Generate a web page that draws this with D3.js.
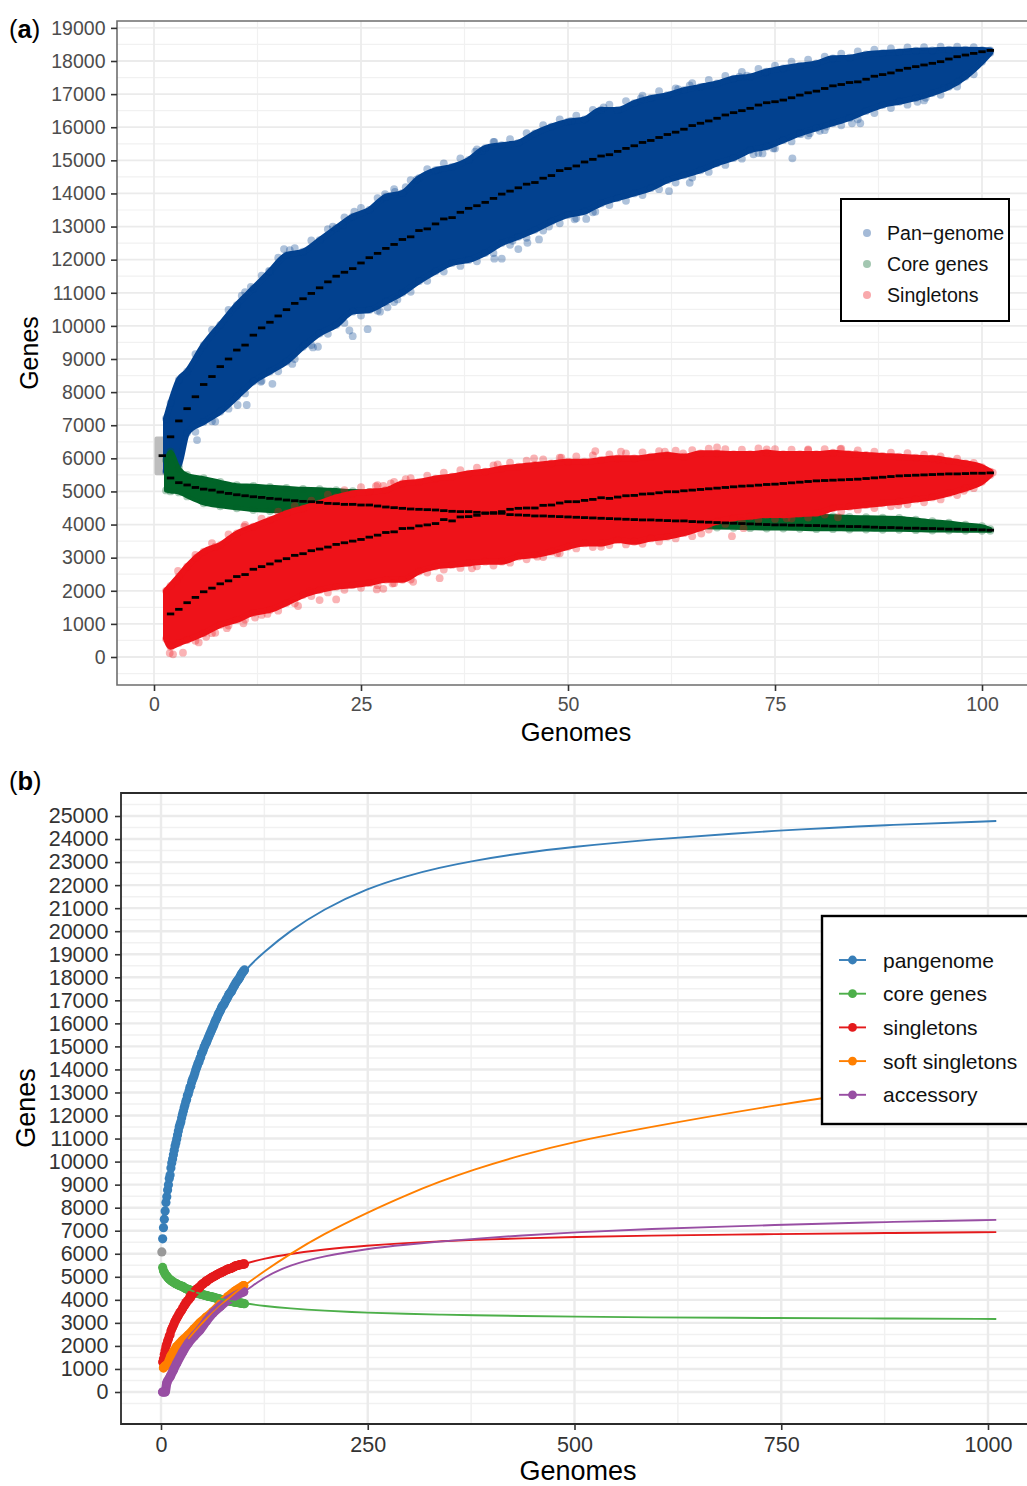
<!DOCTYPE html>
<html>
<head>
<meta charset="utf-8">
<script src="https://cdnjs.cloudflare.com/ajax/libs/d3/7.8.5/d3.min.js"></script>
<style>
html, body { margin: 0; padding: 0; background: #fff; overflow: hidden; }
text { font-family: "Liberation Sans", Arial, sans-serif; }
</style>
</head>
<body>
<script>
// medians per genome count, index 0 = 1 genome for pan, 2 genomes for core/singletons
var panMedian = [6080, 6650, 7130, 7500, 7860, 8230, 8470, 8770, 9000, 9270,
  9420, 9720, 9940, 10110, 10300, 10490, 10680, 10820, 10980, 11150,
  11330, 11500, 11620, 11730, 11900, 12060, 12190, 12340, 12460, 12610,
  12690, 12880, 12930, 13080, 13230, 13270, 13430, 13550, 13630, 13730,
  13850, 13980, 14070, 14170, 14280, 14330, 14460, 14540, 14690, 14750,
  14830, 14950, 15030, 15130, 15170, 15270, 15360, 15440, 15540, 15600,
  15690, 15780, 15850, 15940, 16050, 16120, 16190, 16270, 16370, 16440,
  16500, 16570, 16670, 16740, 16770, 16820, 16890, 16970, 17040, 17090,
  17170, 17250, 17290, 17350, 17370, 17450, 17540, 17590, 17640, 17720,
  17780, 17830, 17880, 17930, 17980, 18060, 18130, 18180, 18230, 18280, 18320];
var coreMedian = [5406, 5265, 5195, 5120, 5070, 5040, 4980, 4940, 4900,
  4870, 4840, 4820, 4790, 4770, 4740, 4720, 4700, 4690, 4670,
  4640, 4630, 4610, 4610, 4590, 4590, 4560, 4530, 4510, 4490,
  4470, 4460, 4450, 4440, 4420, 4400, 4390, 4390, 4370, 4350,
  4340, 4340, 4300, 4290, 4280, 4260, 4260, 4250, 4240, 4230,
  4220, 4210, 4200, 4190, 4180, 4170, 4160, 4150, 4140, 4140,
  4130, 4120, 4110, 4110, 4090, 4080, 4070, 4060, 4050, 4040,
  4030, 4020, 4010, 4000, 3990, 3990, 3980, 3980, 3970, 3970,
  3960, 3950, 3950, 3940, 3940, 3930, 3920, 3910, 3910, 3900,
  3890, 3890, 3880, 3880, 3870, 3860, 3860, 3850, 3850, 3840, 3830];
var singletonMedian = [1300, 1440, 1640, 1800, 1970, 2080, 2210, 2300, 2430,
  2490, 2650, 2730, 2810, 2900, 2970, 3070, 3120, 3210, 3260,
  3320, 3400, 3450, 3500, 3550, 3620, 3680, 3760, 3780, 3880,
  3890, 3960, 3990, 4030, 4150, 4110, 4230, 4240, 4280, 4340,
  4360, 4390, 4460, 4490, 4500, 4500, 4580, 4590, 4650, 4690,
  4690, 4730, 4760, 4810, 4790, 4830, 4870, 4880, 4920, 4930,
  4960, 4990, 4990, 5020, 5040, 5060, 5080, 5100, 5120, 5140,
  5160, 5170, 5190, 5210, 5220, 5240, 5260, 5280, 5300, 5320,
  5330, 5340, 5350, 5360, 5370, 5390, 5410, 5430, 5450, 5470,
  5480, 5490, 5500, 5510, 5520, 5530, 5530, 5540, 5550, 5550, 5560];

// outer edges of the three point clouds
var envGenomes = [1.45, 2, 3, 4, 6, 8, 10, 12, 14, 16, 18, 20, 22, 24, 26, 28, 30, 32, 34, 36, 38, 40, 42, 44, 46, 48, 50,
  52, 54, 56, 58, 60, 62, 64, 66, 68, 70, 72, 74, 76, 78, 80, 82, 84, 86, 88, 90, 92, 94, 96, 98, 100, 101];
var panUpper = [7200, 7670, 8370, 8620, 9420, 10030, 10630, 11130, 11640, 12140, 12240, 12590, 12950, 13300, 13500, 13900, 14010, 14460, 14700, 14800, 15010, 15370, 15460, 15530, 15810, 16020, 16170,
  16240, 16520, 16520, 16730, 16880, 16970, 17120, 17220, 17320, 17470, 17530, 17680, 17780, 17860, 17930, 18080, 18100, 18200, 18240, 18270, 18310, 18320, 18340, 18340, 18330, 18320];
var panLower = [5600, 5600, 5800, 6770, 7100, 7410, 7860, 8320, 8620, 8920, 9370, 9770, 10030, 10430, 10480, 10730, 11000, 11350, 11650, 11900, 11990, 12200, 12500, 12690, 12900, 13150, 13350,
  13450, 13700, 13860, 14000, 14160, 14400, 14550, 14700, 14910, 15070, 15310, 15410, 15610, 15810, 15970, 16120, 16280, 16490, 16670, 16770, 16880, 17030, 17220, 17530, 17980, 18250];
var coreUpper = [5950, 6200, 5700, 5500, 5400, 5290, 5190, 5170, 5140, 5110, 5080, 5070, 5040, 5010, 4990, 4940, 4880, 4850, 4810, 4780, 4750, 4730, 4690, 4660, 4620, 4590, 4560,
  4530, 4510, 4490, 4470, 4450, 4430, 4410, 4390, 4370, 4350, 4330, 4310, 4300, 4280, 4260, 4250, 4230, 4220, 4210, 4200, 4150, 4100, 4060, 4000, 3950, 3860];
var coreLower = [5030, 5000, 4970, 4850, 4640, 4550, 4490, 4440, 4410, 4400, 4350, 4350, 4330, 4310, 4280, 4250, 4200, 4170, 4150, 4120, 4090, 4070, 4050, 4030, 4020, 4010, 4000,
  3990, 3980, 3970, 3960, 3950, 3940, 3930, 3920, 3910, 3900, 3890, 3880, 3880, 3870, 3860, 3860, 3850, 3850, 3840, 3840, 3830, 3820, 3820, 3810, 3810, 3810];
var singletonUpper = [2000, 2150, 2430, 2730, 3180, 3380, 3730, 3940, 4140, 4340, 4490, 4640, 4820, 4940, 4990, 5040, 5240, 5290, 5390, 5450, 5540, 5600, 5690, 5750, 5800, 5850, 5900,
  5900, 5950, 6000, 6000, 6050, 6100, 6050, 6150, 6150, 6130, 6130, 6170, 6130, 6130, 6130, 6170, 6130, 6100, 6070, 6050, 6020, 6000, 5930, 5850, 5730, 5600];
var singletonLower = [550, 310, 420, 510, 720, 970, 1120, 1330, 1420, 1630, 1870, 2020, 2120, 2170, 2230, 2330, 2330, 2580, 2730, 2780, 2830, 2880, 2880, 3030, 3080, 3180, 3330,
  3430, 3430, 3530, 3480, 3580, 3630, 3740, 3900, 4090, 4190, 4240, 4290, 4290, 4320, 4340, 4490, 4540, 4590, 4640, 4690, 4760, 4820, 4940, 5090, 5290, 5500];
var firstGenomes = [0.3, 1.2];
var firstUpper = [6600, 6600];
var firstLower = [5550, 5550];

// pale points just outside the solid edge, odd genome counts 5..99
var panFringeHi = [9150, 9880, 10480, 11020, 11520, 12060, 12350, 12580, 12920, 13280, 13560, 13860, 14130, 14400, 14730, 14910, 15060, 15330, 15560, 15640, 15820, 16060, 16240, 16350,
  16520, 16680, 16790, 16950, 17090, 17170, 17330, 17430, 17550, 17670, 17760, 17860, 17980, 18040, 18130, 18220, 18290, 18340, 18380, 18410, 18420, 18430, 18430, 18420];
var panFringeLo = [6800, 7120, 7500, 7960, 8340, 8630, 9000, 9420, 9760, 10090, 10310, 10460, 10720, 11030, 11360, 11640, 11810, 11950, 12200, 12450, 12660, 12880, 13100, 13250,
  13430, 13650, 13780, 13950, 14130, 14330, 14480, 14650, 14860, 15050, 15220, 15360, 15570, 15750, 15910, 16060, 16240, 16430, 16580, 16680, 16810, 16980, 17230, 17600];
var singletonFringeHi = [3080, 3440, 3700, 3990, 4180, 4390, 4560, 4720, 4900, 5040, 5130, 5190, 5290, 5400, 5480, 5570, 5640, 5720, 5790, 5870, 5930, 5970, 6020, 6060,
  6090, 6120, 6150, 6180, 6220, 6230, 6250, 6290, 6280, 6260, 6300, 6280, 6260, 6270, 6280, 6290, 6240, 6200, 6170, 6160, 6110, 6060, 5990, 5860];
var singletonFringeLo = [490, 720, 950, 1130, 1270, 1400, 1620, 1840, 1950, 2030, 2090, 2170, 2230, 2340, 2550, 2640, 2690, 2740, 2760, 2850, 2950, 3020, 3130, 3280,
  3320, 3380, 3400, 3420, 3490, 3580, 3650, 3850, 4020, 4090, 4150, 4170, 4180, 4210, 4300, 4400, 4450, 4500, 4550, 4610, 4670, 4760, 4890, 5100];

// single points that stick out of the clouds [genomes, genes]
var panStray = [[15.7,12320],[11.2,7610],[14.3,8250],[12.9,8310],[10.1,7610],[24,9690],[23.6,9860],[25.8,9900],[19.8,9370],[19.2,9350],[18.3,9450],[16.7,8850],
  [10.6,10910],[11.7,11180],[13.9,11660],[16.4,12290],[24.2,13450],[21.6,13000],[22.8,13050],[27.9,13980],[29.1,14050],[27.3,10430],[28.2,10560],[29.4,10800],
  [7.4,7110],[5.2,6550],[41.1,15560],[38.8,15260],[39.6,15290],[54.3,16600],[58.8,16870],[64.7,17260],[63.3,17150],[30.4,14190],[31.7,14420],[34.3,14710],[50.4,16190],
  [46.5,12610],[45.1,12510],[44,12320],[42,12030],[41.1,12030],[43.3,12570],[62.2,14070],[64.7,14320],[53.3,13450],[52.2,13230],[50.8,13220],[47.7,13000],
  [73.8,17660],[70.7,17530],[71.6,17560],[77.1,15060],[85.3,16120],[84.3,16120],[81.2,16020],[80.4,15890],[79.2,15820],[78.1,15790],[72.4,15180],[73.5,15210],[74.8,15360],
  [92.2,16770],[93.2,16890],[97.1,17380],[95.4,17180]];
var singletonStray = [[2.3,80],[2.9,2600],[2.7,2300],[5.4,440],[3.5,130],[1.9,120],[6.3,610],[7.4,730],[8.8,870],[10.8,1020],[12.2,1190],[13.7,1300],[17.4,1540],[20,1720],[22,1740],
  [26.9,2040],[27.7,2060],[5.1,3000],[7.4,3330],[10.9,3940],[26.8,5160],[27.7,5170],[28.6,5240],[18.8,1970],[45.9,6000],[53.3,6220],[56.4,6200],[30.4,5370],[41.5,5820],
  [34.5,2380],[31.3,2270],[28.8,2220],[38.4,2680],[46.3,3030],[54,3330],[48.7,3130],[61.7,6200],[63.9,6150],[49.2,6020],[68,6330],[74,6270],[79,6250],[82.9,6280],
  [69.8,3650],[66.1,3730],[89.9,4590],[97.8,5020],[101.3,5570],[84.7,6130],[94.7,5970],[82.6,4220],[76.4,4190],[71.2,3890]];

// panel (b): the extra medians and the fitted curves
var softGenomes = [3, 5, 7, 12, 19, 26, 33, 40, 47, 55, 63, 72, 81, 90, 100];
var softMedian = [1050, 1130, 1170, 1560, 1970, 2240, 2470, 2740, 3000, 3250, 3490, 3820, 4140, 4390, 4620];
var accessoryGenomes = [2, 3, 5, 7, 11, 15, 19, 26, 33, 40, 47, 55, 63, 72, 81, 90, 100];
var accessoryMedian = [0, 0, 0, 390, 660, 960, 1250, 1720, 2120, 2420, 2690, 3080, 3430, 3720, 3990, 4180, 4350];
var fitGenomes = [33, 47, 63, 81, 100, 125, 155, 196, 250, 297, 337, 375, 437, 499, 578, 750, 875, 1010];
var panFit = [12930, 14460, 15850, 17090, 18300, 19110, 19990, 20950, 21870, 22400, 22760, 23040, 23400, 23660, 23950, 24390, 24610, 24780];
var coreFit = [4450, 4260, 4110, 3970, 3850, 3730, 3630, 3530, 3440, 3390, 3360, 3330, 3300, 3270, 3240, 3210, 3190, 3170];
var singletonFit = [3990, 4580, 4990, 5330, 5550, 5800, 5990, 6190, 6360, 6470, 6540, 6600, 6670, 6730, 6780, 6860, 6900, 6940];
var softFit = [2300, 2900, 3450, 4060, 4600, 5250, 5970, 6850, 7800, 8560, 9130, 9620, 10300, 10850, 11420, 12500, 13150, 13800];
var accessoryFit = [2120, 2690, 3430, 3990, 4310, 5000, 5500, 5900, 6220, 6400, 6530, 6640, 6800, 6930, 7060, 7260, 7380, 7470];

var legendA = ["Pan\u2212genome", "Core genes", "Singletons"];
var legendB = ["pangenome", "core genes", "singletons", "soft singletons", "accessory"];

var blue = "#02418f", green = "#006428", red = "#ee1219";
var colB = ["#377eb8", "#4daf4a", "#e41a1c", "#ff7f00", "#984ea3"];

var width = 1027, height = 1486;
var svg = d3.select("body").append("svg").attr("width", width).attr("height", height);

// scales, panel (a)
var xa = d3.scaleLinear().domain([0, 100]).range([154, 982]);
var ya = d3.scaleLinear().domain([0, 18000]).range([657, 61]);
// scales, panel (b)
var xb = d3.scaleLinear().domain([0, 1000]).range([161, 988]);
var yb = d3.scaleLinear().domain([0, 25000]).range([1392, 816]);

function drawPanel(x, y, box, opt) {
  var g = svg.append("g");
  // minor grid is offset half a step from the major one
  var yMinor = d3.range(-500, opt.yMax + 1000, 1000).filter(function (v) { return y(v) > box.top && y(v) < box.bottom; });
  var xStep = opt.xStep;
  var xMinor = d3.range(-xStep / 2, x.domain()[1] + xStep, xStep).filter(function (v) { return x(v) > box.left; });
  g.selectAll(".hm").data(yMinor).enter().append("line")
    .attr("x1", box.left).attr("x2", width).attr("y1", d => y(d)).attr("y2", d => y(d))
    .attr("stroke", "#f1f1f1").attr("stroke-width", opt.minorW);
  g.selectAll(".vm").data(xMinor).enter().append("line")
    .attr("y1", box.top).attr("y2", box.bottom).attr("x1", d => x(d)).attr("x2", d => x(d))
    .attr("stroke", "#f1f1f1").attr("stroke-width", opt.minorW);
  g.selectAll(".h").data(opt.yTicks).enter().append("line")
    .attr("x1", box.left).attr("x2", width).attr("y1", d => y(d)).attr("y2", d => y(d))
    .attr("stroke", "#ebebeb").attr("stroke-width", opt.majorW);
  g.selectAll(".v").data(opt.xTicks).enter().append("line")
    .attr("y1", box.top).attr("y2", box.bottom).attr("x1", d => x(d)).attr("x2", d => x(d))
    .attr("stroke", "#ebebeb").attr("stroke-width", opt.majorW);
}

function drawAxes(x, y, box, opt) {
  var g = svg.append("g");
  g.append("path")
    .attr("d", "M" + width + "," + box.top + "H" + box.left + "V" + box.bottom + "H" + width)
    .attr("fill", "none").attr("stroke", opt.frame).attr("stroke-width", opt.frameW);
  var left = g.append("g").attr("transform", "translate(" + box.left + ",0)")
    .call(d3.axisLeft(y).tickValues(opt.yTicks).tickFormat(d3.format("d")).tickSize(opt.tick).tickPadding(opt.padY));
  var bottom = g.append("g").attr("transform", "translate(0," + box.bottom + ")")
    .call(d3.axisBottom(x).tickValues(opt.xTicks).tickFormat(d3.format("d")).tickSize(opt.tick).tickPadding(opt.padX));
  [left, bottom].forEach(function (a) {
    a.select(".domain").remove();
    a.selectAll("line").attr("stroke", opt.tickCol).attr("stroke-width", 1.6);
    a.selectAll("text").attr("fill", opt.labelCol).style("font-size", opt.labelSize + "px");
  });
}

var boxA = { left: 117, top: 21, bottom: 685 };
var boxB = { left: 121, top: 793, bottom: 1424 };
var optA = { yMax: 19000, xStep: 25, yTicks: d3.range(0, 19001, 1000), xTicks: [0, 25, 50, 75, 100], majorW: 1.8, minorW: 1.2,
  frame: "#6e6e6e", frameW: 1.6, tick: 6, padY: 5.5, padX: 6, tickCol: "#333", labelCol: "#4d4d4d", labelSize: 19.5 };
var optB = { yMax: 25000, xStep: 250, yTicks: d3.range(0, 25001, 1000), xTicks: [0, 250, 500, 750, 1000], majorW: 2.4, minorW: 1.5,
  frame: "#2b2b2b", frameW: 1.8, tick: 6, padY: 6.5, padX: 7, tickCol: "#333", labelCol: "#333", labelSize: 21.5 };

drawPanel(xa, ya, boxA, optA);
drawPanel(xb, yb, boxB, optB);

// panel (a): clouds
var fringeGenomes = d3.range(5, 100, 2);
function drawCloud(upper, lower, colour, stray, edgeW, fringeHi, fringeLo) {
  var rows = envGenomes.map(function (g, i) { return { g: g, hi: upper[i], lo: lower[i] }; });
  var g = svg.append("g");
  g.append("path").datum(rows)
    .attr("fill", colour).attr("stroke", colour).attr("stroke-width", edgeW).attr("stroke-linejoin", "round")
    .attr("d", d3.area().curve(d3.curveMonotoneX).x(d => xa(d.g)).y0(d => ya(d.lo)).y1(d => ya(d.hi)));
  var edge = rows.map(d => [d.g, d.hi]).concat(rows.map(d => [d.g, d.lo])).concat(stray);
  fringeGenomes.forEach(function (f, i) {
    if (fringeHi) edge.push([f, fringeHi[i]], [f, fringeLo[i]]);
  });
  g.selectAll("circle").data(edge).enter().append("circle")
    .attr("cx", d => xa(d[0])).attr("cy", d => ya(d[1])).attr("r", 3.9)
    .attr("fill", colour).attr("fill-opacity", 0.32);
}

svg.append("path")
  .datum(firstGenomes.map(function (g, i) { return { g: g, hi: firstUpper[i], lo: firstLower[i] }; }))
  .attr("fill", "#bdbdbd").attr("stroke", "#bdbdbd").attr("stroke-width", 4).attr("stroke-linejoin", "round")
  .attr("d", d3.area().x(d => xa(d.g)).y0(d => ya(d.lo)).y1(d => ya(d.hi)));
drawCloud(panUpper, panLower, blue, panStray, 6, panFringeHi, panFringeLo);
drawCloud(coreUpper, coreLower, green, [], 4);
drawCloud(singletonUpper, singletonLower, red, singletonStray, 6, singletonFringeHi, singletonFringeLo);

// black median dashes
function drawDashes(values, start) {
  svg.append("g").selectAll("rect").data(values).enter().append("rect")
    .attr("x", (d, i) => xa(i + start) - 3.7).attr("y", d => ya(d) - 1.4)
    .attr("width", 7.4).attr("height", 2.8).attr("fill", "#000");
}
drawDashes(panMedian, 1);
drawDashes(coreMedian, 2);
drawDashes(singletonMedian, 2);

// panel (b): medians as fat dots
function drawDots(rows, colour) {
  svg.append("g").selectAll("circle").data(rows).enter().append("circle")
    .attr("cx", d => xb(d[0])).attr("cy", d => yb(d[1])).attr("r", 4.6).attr("fill", colour);
}
function drawFatLine(gs, vs, colour) {
  var rows = gs.map((g, i) => [g, vs[i]]);
  svg.append("path").datum(rows)
    .attr("fill", "none").attr("stroke", colour).attr("stroke-width", 9.2).attr("stroke-linecap", "round").attr("stroke-linejoin", "round")
    .attr("d", d3.line().curve(d3.curveMonotoneX).x(d => xb(d[0])).y(d => yb(d[1])));
  drawDots(rows, colour);
}
drawDots(panMedian.slice(1).map((v, i) => [i + 2, v]), colB[0]);
drawDots([[1, panMedian[0]]], "#999");
drawDots(coreMedian.map((v, i) => [i + 2, v]), colB[1]);
drawDots(singletonMedian.map((v, i) => [i + 2, v]), colB[2]);
drawFatLine(softGenomes, softMedian, colB[3]);
drawFatLine(accessoryGenomes, accessoryMedian, colB[4]);

// panel (b): fitted curves
[panFit, coreFit, singletonFit, softFit, accessoryFit].forEach(function (vs, k) {
  svg.append("path").datum(vs.map((v, i) => [fitGenomes[i], v]))
    .attr("fill", "none").attr("stroke", colB[k]).attr("stroke-width", 1.9)
    .attr("d", d3.line().curve(d3.curveBasis).x(d => xb(d[0])).y(d => yb(d[1])));
});

drawAxes(xa, ya, boxA, optA);
drawAxes(xb, yb, boxB, optB);

// axis titles
function title(txt, x, y, size, rot) {
  svg.append("text").text(txt)
    .attr("transform", "translate(" + x + "," + y + ")" + (rot ? " rotate(-90)" : ""))
    .attr("text-anchor", "middle").attr("fill", "#000").style("font-size", size + "px");
}
title("Genomes", 576, 741, 25.5);
title("Genes", 38, 353, 25, true);
title("Genomes", 578, 1480, 27);
title("Genes", 35, 1108, 27, true);

// panel tags
function tag(letter, x, y) {
  var t = svg.append("text").attr("x", x).attr("y", y).attr("fill", "#000").style("font-size", "25.5px");
  t.append("tspan").text("(");
  t.append("tspan").text(letter).attr("font-weight", "bold");
  t.append("tspan").text(")");
}
tag("a", 9, 38);
tag("b", 9, 790);

// legend (a)
var lgA = svg.append("g");
lgA.append("rect").attr("x", 841).attr("y", 199).attr("width", 168).attr("height", 122)
  .attr("fill", "#fff").attr("stroke", "#000").attr("stroke-width", 2);
var lgColours = [blue, green, red];
legendA.forEach(function (name, i) {
  var cy = 233 + i * 31;
  lgA.append("circle").attr("cx", 867).attr("cy", cy).attr("r", 4).attr("fill", lgColours[i]).attr("fill-opacity", 0.36);
  lgA.append("text").text(name).attr("x", 887).attr("y", cy + 7).attr("fill", "#111").style("font-size", "19.6px");
});

// legend (b)
var lgB = svg.append("g");
lgB.append("rect").attr("x", 822).attr("y", 916).attr("width", 230).attr("height", 208)
  .attr("fill", "#fff").attr("stroke", "#000").attr("stroke-width", 2.4);
legendB.forEach(function (name, i) {
  var cy = 960 + i * 33.7;
  lgB.append("line").attr("x1", 839).attr("x2", 866).attr("y1", cy).attr("y2", cy).attr("stroke", colB[i]).attr("stroke-width", 1.9);
  lgB.append("circle").attr("cx", 852.5).attr("cy", cy).attr("r", 4.4).attr("fill", colB[i]);
  lgB.append("text").text(name).attr("x", 883).attr("y", cy + 7.5).attr("fill", "#111").style("font-size", "21px");
});
</script>
</body>
</html>
